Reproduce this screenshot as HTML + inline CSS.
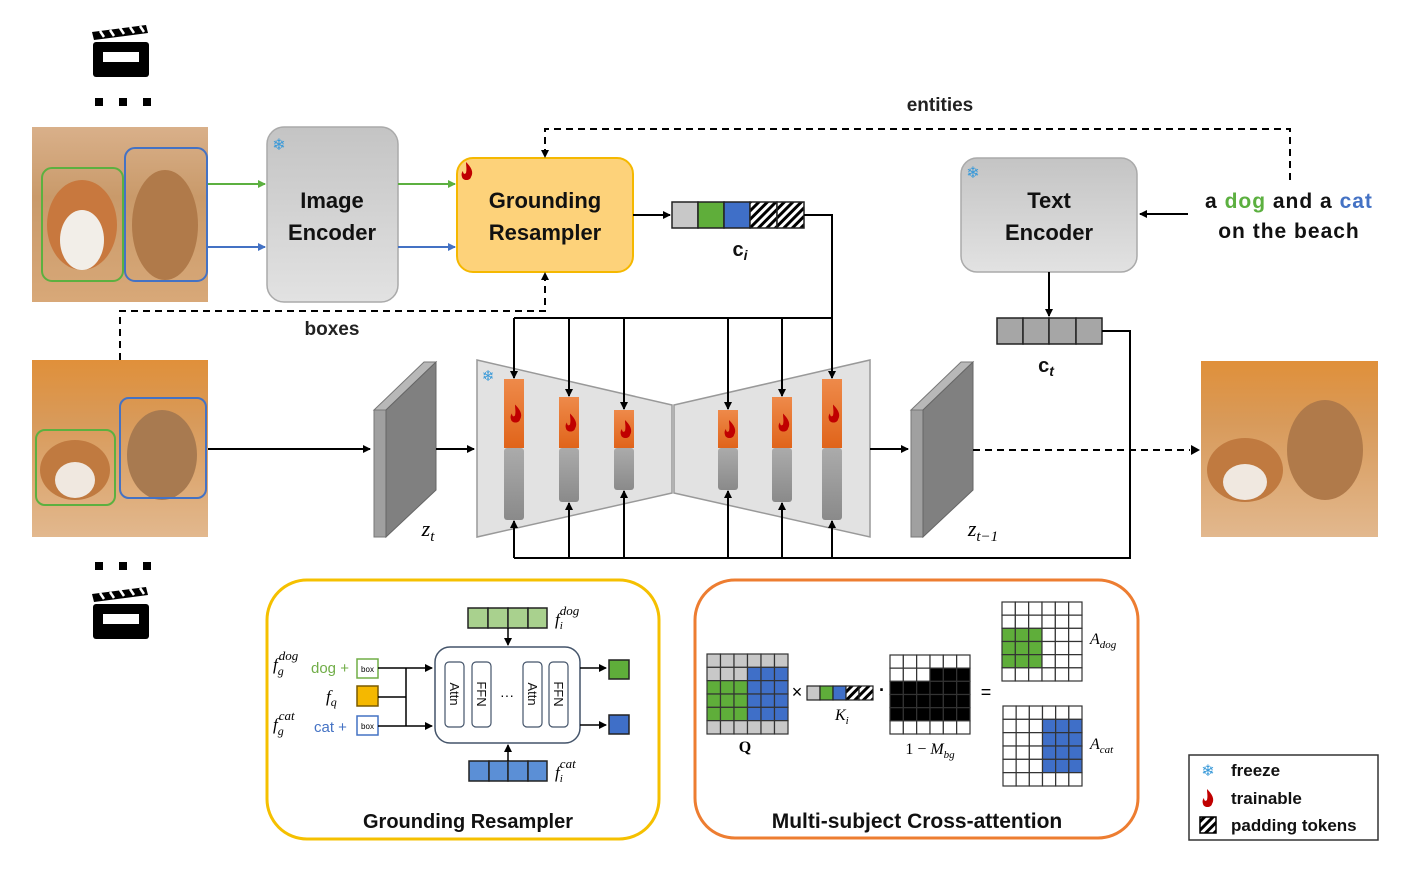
<!DOCTYPE html>
<html><head><meta charset="utf-8"><style>
html,body{margin:0;padding:0;background:#fff;}
svg{display:block;font-family:"Liberation Sans",sans-serif;}
</style></head><body>
<svg id="s" width="1422" height="874" viewBox="0 0 1422 874" xmlns="http://www.w3.org/2000/svg">
<defs>
<marker id="ab" markerWidth="8" markerHeight="8" refX="7" refY="4" orient="auto" markerUnits="userSpaceOnUse"><path d="M0,0 L8,4 L0,8 z" fill="#000"/></marker>
<marker id="ag" markerWidth="8" markerHeight="8" refX="7" refY="4" orient="auto" markerUnits="userSpaceOnUse"><path d="M0,0 L8,4 L0,8 z" fill="#5cb040"/></marker>
<marker id="abl" markerWidth="8" markerHeight="8" refX="7" refY="4" orient="auto" markerUnits="userSpaceOnUse"><path d="M0,0 L8,4 L0,8 z" fill="#4472c4"/></marker>
<linearGradient id="gray" x1="0" y1="0" x2="0" y2="1"><stop offset="0" stop-color="#c4c4c4"/><stop offset="1" stop-color="#e2e2e2"/></linearGradient>
<linearGradient id="blk" x1="0" y1="0" x2="0" y2="1"><stop offset="0" stop-color="#ababab"/><stop offset="1" stop-color="#8a8a8a"/></linearGradient>
<linearGradient id="org" x1="0" y1="0" x2="0" y2="1"><stop offset="0" stop-color="#ee8a4a"/><stop offset="1" stop-color="#e0641a"/></linearGradient>
<linearGradient id="ph1" x1="0" y1="0" x2="0" y2="1"><stop offset="0" stop-color="#d9b08a"/><stop offset="0.4" stop-color="#c99a6a"/><stop offset="1" stop-color="#d8a878"/></linearGradient>
<linearGradient id="ph2" x1="0" y1="0" x2="0" y2="1"><stop offset="0" stop-color="#e0903a"/><stop offset="0.35" stop-color="#d89a5a"/><stop offset="1" stop-color="#e2b88e"/></linearGradient>
<pattern id="hatch" width="6" height="6" patternUnits="userSpaceOnUse" patternTransform="rotate(45)"><rect width="6" height="6" fill="#fff"/><rect width="3" height="6" fill="#000"/></pattern>
</defs>

<g id="clap">
<path d="M92,32 L146,25 L148,33 L94,40 z" fill="#000"/>
<path d="M100,31 l4,6 M110,30 l4,6 M120,28 l4,6 M130,27 l4,6 M140,26 l4,6" stroke="#fff" stroke-width="2.5"/>
<rect x="93" y="42" width="56" height="35" rx="3" fill="#000"/>
<rect x="103" y="52" width="36" height="10" fill="#fff"/>
</g>
<use href="#clap" transform="translate(0,562)"/>
<g fill="#000"><rect x="95" y="98" width="8" height="8"/><rect x="119" y="98" width="8" height="8"/><rect x="143" y="98" width="8" height="8"/>
<rect x="95" y="562" width="8" height="8"/><rect x="119" y="562" width="8" height="8"/><rect x="143" y="562" width="8" height="8"/></g>

<rect x="32" y="127" width="176" height="175" fill="url(#ph1)"/>
<ellipse cx="82" cy="225" rx="35" ry="45" fill="#c8783e"/><ellipse cx="82" cy="240" rx="22" ry="30" fill="#f2eee8"/>
<ellipse cx="165" cy="225" rx="33" ry="55" fill="#b07a4a"/>
<rect x="42" y="168" width="81" height="113" rx="10" fill="none" stroke="#5cb040" stroke-width="2"/>
<rect x="125" y="148" width="82" height="133" rx="10" fill="none" stroke="#4472c4" stroke-width="2"/>

<rect x="32" y="360" width="176" height="177" fill="url(#ph2)"/>
<ellipse cx="75" cy="470" rx="35" ry="30" fill="#c07a40"/><ellipse cx="75" cy="480" rx="20" ry="18" fill="#f0e8e0"/>
<ellipse cx="162" cy="455" rx="35" ry="45" fill="#a87a50"/>
<rect x="36" y="430" width="79" height="75" rx="9" fill="none" stroke="#5cb040" stroke-width="2"/>
<rect x="120" y="398" width="86" height="100" rx="9" fill="none" stroke="#4472c4" stroke-width="2"/>

<rect x="1201" y="361" width="177" height="176" fill="url(#ph2)"/>
<ellipse cx="1245" cy="470" rx="38" ry="32" fill="#c07a40"/><ellipse cx="1245" cy="482" rx="22" ry="18" fill="#f0e8e0"/>
<ellipse cx="1325" cy="450" rx="38" ry="50" fill="#b07a4a"/>

<rect x="267" y="127" width="131" height="175" rx="17" fill="url(#gray)" stroke="#aaa" stroke-width="1.5"/>
<text x="332" y="208" text-anchor="middle" font-size="22" font-weight="bold" fill="#111">Image</text>
<text x="332" y="240" text-anchor="middle" font-size="22" font-weight="bold" fill="#111">Encoder</text>
<text x="279" y="150" text-anchor="middle" font-size="16" fill="#3a9ad9">❄</text>
<line x1="208" y1="184" x2="265" y2="184" stroke="#5cb040" stroke-width="2" marker-end="url(#ag)"/>
<line x1="208" y1="247" x2="265" y2="247" stroke="#4472c4" stroke-width="2" marker-end="url(#abl)"/>
<line x1="398" y1="184" x2="455" y2="184" stroke="#5cb040" stroke-width="2" marker-end="url(#ag)"/>
<line x1="398" y1="247" x2="455" y2="247" stroke="#4472c4" stroke-width="2" marker-end="url(#abl)"/>

<rect x="457" y="158" width="176" height="114" rx="16" fill="#fdd27a" stroke="#f5b800" stroke-width="2"/>
<text x="545" y="208" text-anchor="middle" font-size="22" font-weight="bold" fill="#111">Grounding</text>
<text x="545" y="240" text-anchor="middle" font-size="22" font-weight="bold" fill="#111">Resampler</text>
<path d="M0,0 c5,5 8,10 5,15 c-1,4 -8,4 -9,0 c-1,-3 0,-5 1,-6 c0,2 1,4 3,2 c1,-4 0,-7 0,-11z" fill="#c00000" transform="translate(466,162)"/>

<line x1="633" y1="215" x2="670" y2="215" stroke="#000" stroke-width="2" marker-end="url(#ab)"/>
<g stroke="#222" stroke-width="1.5">
<rect x="672" y="202" width="26" height="26" fill="#c8c8c8"/>
<rect x="698" y="202" width="26" height="26" fill="#5fae3a"/>
<rect x="724" y="202" width="26" height="26" fill="#3f6fc8"/>
<rect x="750" y="202" width="27" height="26" fill="url(#hatch)"/>
<rect x="777" y="202" width="27" height="26" fill="url(#hatch)"/>
</g>
<text x="740" y="256" text-anchor="middle" font-size="20" font-weight="bold" fill="#111">c<tspan font-size="14" font-style="italic" dy="4">i</tspan></text>

<rect x="961" y="158" width="176" height="114" rx="16" fill="url(#gray)" stroke="#aaa" stroke-width="1.5"/>
<text x="1049" y="208" text-anchor="middle" font-size="22" font-weight="bold" fill="#111">Text</text>
<text x="1049" y="240" text-anchor="middle" font-size="22" font-weight="bold" fill="#111">Encoder</text>
<text x="973" y="178" text-anchor="middle" font-size="16" fill="#3a9ad9">❄</text>
<line x1="1188" y1="214" x2="1140" y2="214" stroke="#000" stroke-width="2" marker-end="url(#ab)"/>
<text x="1289" y="208" text-anchor="middle" font-size="21" font-weight="bold" letter-spacing="1" fill="#111">a <tspan fill="#5cb040">dog</tspan> and a <tspan fill="#4472c4">cat</tspan></text>
<text x="1289" y="238" text-anchor="middle" font-size="21" font-weight="bold" letter-spacing="1" fill="#111">on the beach</text>

<polyline points="1290,180 1290,129 545,129 545,154" fill="none" stroke="#000" stroke-width="2" stroke-dasharray="7,5"/>
<path d="M541,150 L545,158 L549,150z" fill="#000"/>
<text x="940" y="111" text-anchor="middle" font-size="19" font-weight="bold" fill="#222">entities</text>
<polyline points="120,360 120,311 545,311 545,278" fill="none" stroke="#000" stroke-width="2" stroke-dasharray="7,5"/>
<path d="M541,280 L545,272 L549,280z" fill="#000"/>
<text x="332" y="335" text-anchor="middle" font-size="19" font-weight="bold" fill="#222">boxes</text>

<line x1="1049" y1="272" x2="1049" y2="316" stroke="#000" stroke-width="2" marker-end="url(#ab)"/>
<g stroke="#222" stroke-width="1.5" fill="#a6a6a6">
<rect x="997" y="318" width="26" height="26"/><rect x="1023" y="318" width="26" height="26"/><rect x="1049" y="318" width="27" height="26"/><rect x="1076" y="318" width="26" height="26"/></g>
<text x="1046" y="372" text-anchor="middle" font-size="20" font-weight="bold" fill="#111">c<tspan font-size="14" font-style="italic" dy="4">t</tspan></text>

<polyline points="804,215 832,215 832,318 514,318" fill="none" stroke="#000" stroke-width="2"/>
<polyline points="1102,331 1130,331 1130,558 514,558" fill="none" stroke="#000" stroke-width="2"/>

<line x1="208" y1="449" x2="370" y2="449" stroke="#000" stroke-width="2" marker-end="url(#ab)"/>
<polygon points="374,410 386,410 386,537 374,537" fill="#a0a0a0" stroke="#777"/>
<polygon points="374,410 424,362 436,362 386,410" fill="#b8b8b8" stroke="#777"/>
<polygon points="386,410 436,362 436,490 386,537" fill="#808080" stroke="#666"/>
<text x="428" y="536" text-anchor="middle" font-size="22" font-style="italic" font-family="Liberation Serif,serif">z<tspan font-size="15" dy="5">t</tspan></text>
<line x1="436" y1="449" x2="474" y2="449" stroke="#000" stroke-width="2" marker-end="url(#ab)"/>

<polygon points="477,360 672,405 672,493 477,537" fill="#e2e2e2" stroke="#999" stroke-width="1.5"/>
<polygon points="674,405 870,360 870,537 674,493" fill="#e2e2e2" stroke="#999" stroke-width="1.5"/>
<text x="488" y="381" text-anchor="middle" font-size="15" fill="#3a9ad9">❄</text>
<g id="blocks"></g>

<line x1="870" y1="449" x2="908" y2="449" stroke="#000" stroke-width="2" marker-end="url(#ab)"/>
<polygon points="911,410 923,410 923,537 911,537" fill="#a0a0a0" stroke="#777"/>
<polygon points="911,410 961,362 973,362 923,410" fill="#b8b8b8" stroke="#777"/>
<polygon points="923,410 973,362 973,490 923,537" fill="#808080" stroke="#666"/>
<text x="983" y="536" text-anchor="middle" font-size="22" font-style="italic" font-family="Liberation Serif,serif">z<tspan font-size="15" dy="5">t−1</tspan></text>
<line x1="973" y1="450" x2="1190" y2="450" stroke="#000" stroke-width="2" stroke-dasharray="7,5"/>
<path d="M1191,445 L1200,450 L1191,455z" fill="#000"/>

<rect x="267" y="580" width="392" height="259" rx="40" fill="none" stroke="#f5c000" stroke-width="3"/>
<g stroke="#222" stroke-width="1.5" fill="#a9d18e">
<rect x="468" y="608" width="20" height="20"/><rect x="488" y="608" width="20" height="20"/><rect x="508" y="608" width="20" height="20"/><rect x="528" y="608" width="19" height="20"/></g>
<g stroke="#222" stroke-width="1.5" fill="#5b8fd6">
<rect x="469" y="761" width="20" height="20"/><rect x="489" y="761" width="19" height="20"/><rect x="508" y="761" width="20" height="20"/><rect x="528" y="761" width="19" height="20"/></g>
<line x1="508" y1="628" x2="508" y2="645" stroke="#000" stroke-width="1.5" marker-end="url(#ab)"/>
<line x1="508" y1="761" x2="508" y2="745" stroke="#000" stroke-width="1.5" marker-end="url(#ab)"/>
<text x="555" y="625" font-size="17" font-style="italic" font-family="Liberation Serif,serif">f<tspan font-size="11" dy="4">i</tspan><tspan font-size="13" dy="-14" dx="-3">dog</tspan></text>
<text x="555" y="778" font-size="17" font-style="italic" font-family="Liberation Serif,serif">f<tspan font-size="11" dy="4">i</tspan><tspan font-size="13" dy="-14" dx="-3">cat</tspan></text>
<rect x="435" y="647" width="145" height="96" rx="15" fill="#fff" stroke="#44546a" stroke-width="1.5"/>
<g fill="#fff" stroke="#44546a" stroke-width="1.2">
<rect x="445" y="662" width="19" height="65" rx="4"/><rect x="472" y="662" width="19" height="65" rx="4"/>
<rect x="523" y="662" width="19" height="65" rx="4"/><rect x="549" y="662" width="19" height="65" rx="4"/></g>
<g font-size="13" fill="#111">
<text transform="translate(450,694) rotate(90)" text-anchor="middle">Attn</text>
<text transform="translate(477,694) rotate(90)" text-anchor="middle">FFN</text>
<text transform="translate(528,694) rotate(90)" text-anchor="middle">Attn</text>
<text transform="translate(554,694) rotate(90)" text-anchor="middle">FFN</text></g>
<text x="507" y="700" text-anchor="middle" font-size="14">···</text>
<text x="273" y="670" font-size="17" font-style="italic" font-family="Liberation Serif,serif">f<tspan font-size="12" dy="5">g</tspan><tspan font-size="13" dy="-15" dx="-5">dog</tspan></text>
<text x="311" y="673" font-size="15" fill="#70ad47">dog +</text>
<rect x="357" y="659" width="21" height="19" fill="#fff" stroke="#70ad47" stroke-width="1.5"/>
<text x="367.5" y="672" text-anchor="middle" font-size="8">box</text>
<text x="326" y="702" font-size="17" font-style="italic" font-family="Liberation Serif,serif">f<tspan font-size="12" dy="4">q</tspan></text>
<rect x="357" y="686" width="21" height="20" fill="#f5b800" stroke="#7a5a00" stroke-width="1.5"/>
<text x="273" y="730" font-size="17" font-style="italic" font-family="Liberation Serif,serif">f<tspan font-size="12" dy="5">g</tspan><tspan font-size="13" dy="-15" dx="-5">cat</tspan></text>
<text x="314" y="732" font-size="15" fill="#4472c4">cat +</text>
<rect x="357" y="716" width="21" height="19" fill="#fff" stroke="#4472c4" stroke-width="1.5"/>
<text x="367.5" y="729" text-anchor="middle" font-size="8">box</text>
<g stroke="#000" stroke-width="1.5" fill="none">
<line x1="378" y1="668" x2="432" y2="668" marker-end="url(#ab)"/>
<line x1="378" y1="726" x2="432" y2="726" marker-end="url(#ab)"/>
<line x1="378" y1="697" x2="406" y2="697"/>
<line x1="406" y1="668" x2="406" y2="726"/>
<line x1="580" y1="668" x2="606" y2="668" marker-end="url(#ab)"/>
<line x1="580" y1="725" x2="606" y2="725" marker-end="url(#ab)"/></g>
<rect x="609" y="660" width="20" height="19" fill="#5fae3a" stroke="#222" stroke-width="1.5"/>
<rect x="609" y="715" width="20" height="19" fill="#3f6fc8" stroke="#222" stroke-width="1.5"/>
<text x="468" y="828" text-anchor="middle" font-size="20" font-weight="bold" fill="#111">Grounding Resampler</text>

<rect x="695" y="580" width="443" height="258" rx="40" fill="none" stroke="#ed7d31" stroke-width="3"/>
<g id="grids"></g>
<text x="797" y="698" text-anchor="middle" font-size="18">×</text>
<g stroke="#222" stroke-width="1.2">
<rect x="807" y="686" width="13" height="14" fill="#c8c8c8"/><rect x="820" y="686" width="13" height="14" fill="#5fae3a"/><rect x="833" y="686" width="13" height="14" fill="#3f6fc8"/><rect x="846" y="686" width="13" height="14" fill="url(#hatch)"/><rect x="859" y="686" width="14" height="14" fill="url(#hatch)"/></g>
<text x="835" y="720" font-size="16" font-style="italic" font-family="Liberation Serif,serif">K<tspan font-size="11" dy="4">i</tspan></text>
<text x="882" y="696" text-anchor="middle" font-size="18" font-weight="bold">·</text>
<text x="986" y="698" text-anchor="middle" font-size="18">=</text>
<text x="745" y="752" text-anchor="middle" font-size="16" font-weight="bold" font-family="Liberation Serif,serif">Q</text>
<text x="930" y="754" text-anchor="middle" font-size="16" font-family="Liberation Serif,serif">1 − <tspan font-style="italic">M</tspan><tspan font-size="11" font-style="italic" dy="4">bg</tspan></text>
<text x="1090" y="644" font-size="16" font-style="italic" font-family="Liberation Serif,serif">A<tspan font-size="11" dy="4">dog</tspan></text>
<text x="1090" y="749" font-size="16" font-style="italic" font-family="Liberation Serif,serif">A<tspan font-size="11" dy="4">cat</tspan></text>
<text x="917" y="828" text-anchor="middle" font-size="21" font-weight="bold" fill="#111">Multi-subject Cross-attention</text>

<rect x="1189" y="755" width="189" height="85" fill="#fff" stroke="#333" stroke-width="1.5"/>
<text x="1208" y="776" text-anchor="middle" font-size="16" fill="#3a9ad9">❄</text>
<text x="1231" y="776" font-size="17" font-weight="bold" fill="#111">freeze</text>
<path d="M0,0 c5,5 8,10 5,15 c-1,4 -8,4 -9,0 c-1,-3 0,-5 1,-6 c0,2 1,4 3,2 c1,-4 0,-7 0,-11z" fill="#c00000" transform="translate(1207,789)"/>
<text x="1231" y="804" font-size="17" font-weight="bold" fill="#111">trainable</text>
<rect x="1200" y="817" width="16" height="16" fill="url(#hatch)" stroke="#000" stroke-width="1.5"/>
<text x="1231" y="831" font-size="17" font-weight="bold" fill="#111">padding tokens</text>
</svg>
<script>
var NS="http://www.w3.org/2000/svg";
function el(p,t,a){var e=document.createElementNS(NS,t);for(var k in a)e.setAttribute(k,a[k]);p.appendChild(e);return e;}
var b=document.getElementById('blocks');
[[514,379,520],[569,397,502],[624,410,490],[728,410,490],[782,397,502],[832,379,520]].forEach(function(d){
 var x=d[0]-10;
 el(b,'rect',{x:x,y:448,width:20,height:d[2]-448,rx:3,fill:'url(#blk)'});
 el(b,'rect',{x:x,y:d[1],width:20,height:448-d[1],fill:'url(#org)'});
 var f=el(b,'path',{d:'M0,0 c5,5 8,10 5,15 c-1,4 -8,4 -9,0 c-1,-3 0,-5 1,-6 c0,2 1,4 3,2 c1,-4 0,-7 0,-11z',fill:'#c00000'});
 var cy=(d[1]+448)/2-9;f.setAttribute('transform','translate('+(d[0]+1)+','+cy+')');
 el(b,'line',{x1:d[0],y1:318,x2:d[0],y2:d[1]-1,stroke:'#000','stroke-width':2,'marker-end':'url(#ab)'});
 el(b,'line',{x1:d[0],y1:558,x2:d[0],y2:d[2]+1,stroke:'#000','stroke-width':2,'marker-end':'url(#ab)'});
});
var g=document.getElementById('grids');
function grid(x0,y0,w,h,fn){var c=w/6,r=h/6;for(var i=0;i<6;i++)for(var j=0;j<6;j++)el(g,'rect',{x:x0+j*c,y:y0+i*r,width:c,height:r,fill:fn(i,j),stroke:'#333','stroke-width':1.2});}
grid(707,654,81,80,function(i,j){if(i==0||i==5)return '#c8c8c8';if(j>=3)return '#3f6fc8';if(i==1)return '#c8c8c8';return '#5fae3a';});
grid(890,655,80,79,function(i,j){if(i==0||i==5)return '#fff';if(i==1)return j>=3?'#000':'#fff';return '#000';});
grid(1002,602,80,79,function(i,j){return (i>=2&&i<=4&&j<3)?'#5fae3a':'#fff';});
grid(1003,706,79,80,function(i,j){return (i>=1&&i<=4&&j>=3)?'#3f6fc8':'#fff';});
</script>
</body></html>
